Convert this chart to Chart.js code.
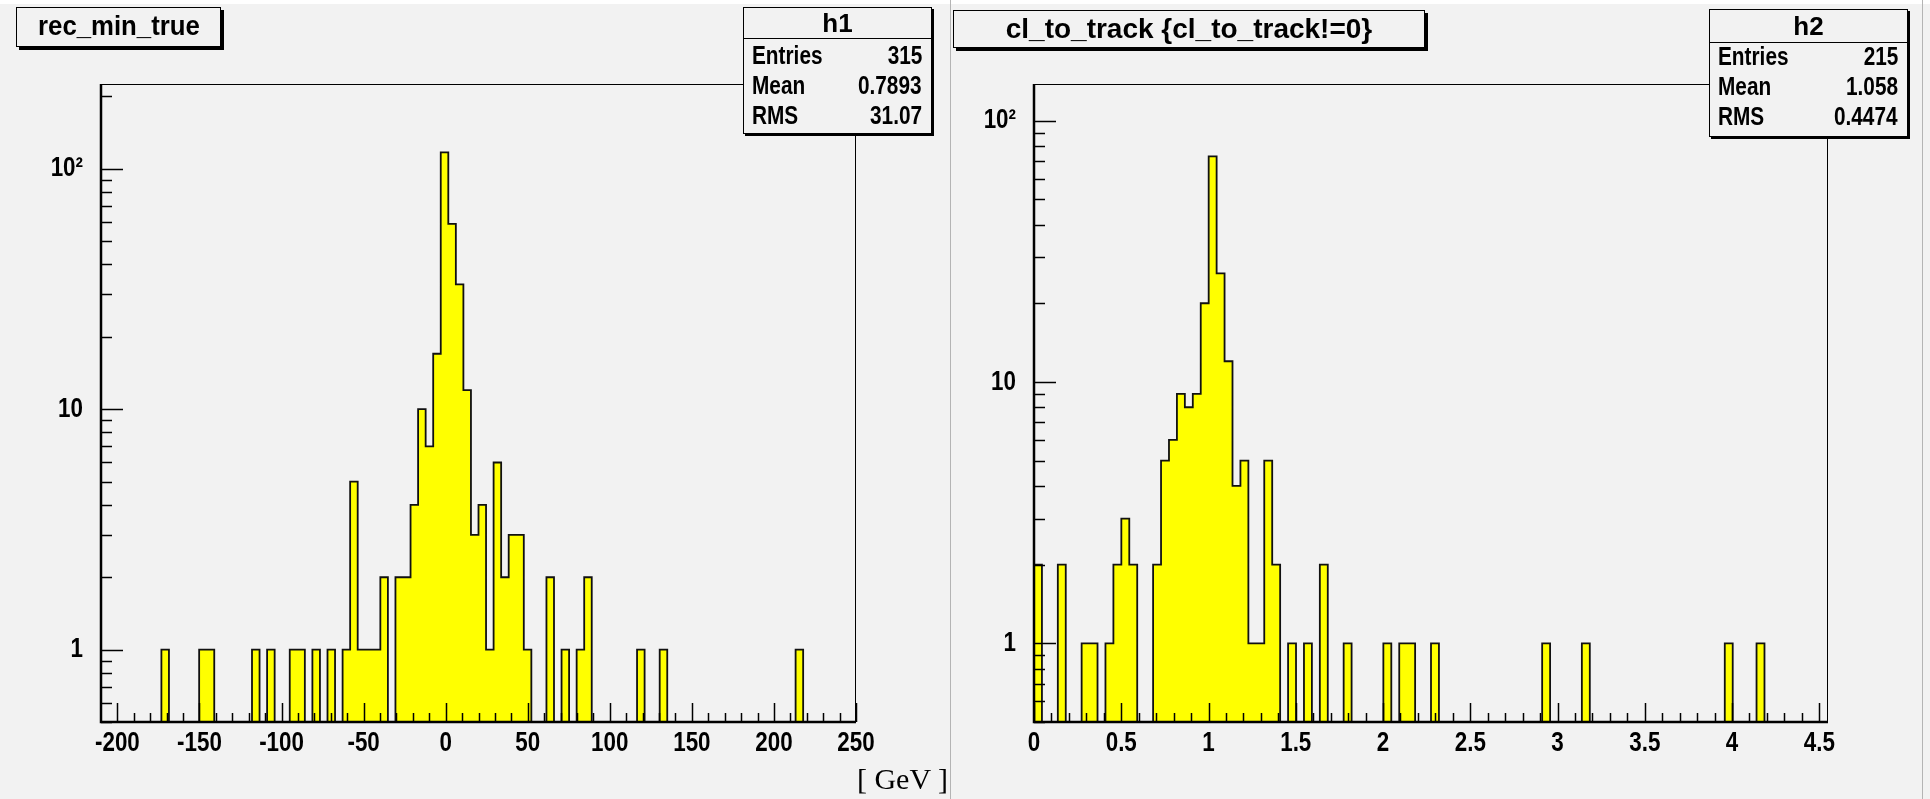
<!DOCTYPE html>
<html>
<head>
<meta charset="utf-8">
<script src="https://cdn.jsdelivr.net/npm/chart.js@4/dist/chart.umd.min.js"></script>
<style>
  html, body { margin: 0; padding: 0; }
  body {
    width: 1930px; height: 799px; position: relative; overflow: hidden;
    background: #f2f2f2;
    font-family: "Liberation Sans", Arial, sans-serif;
  }
  canvas { position: absolute; top: 0; }
  #h1c { left: 0; }
  #h2c { left: 950px; }
  .strip { position: absolute; left: 0; top: 0; width: 1930px; height: 4px; background: #fff; }
  .sep { position: absolute; top: 0; width: 1px; height: 799px; background: #b4b4b4; }
  .title, .stats {
    position: absolute; box-sizing: border-box;
    border: 1px solid #000; box-shadow: 3px 3px 0 #000;
    background: #f2f2f2; font-weight: bold; color: #000;
  }
  .title { font-size: 28px; text-align: center; line-height: 36px; white-space: nowrap; }
  .title span { display: inline-block; transform-origin: center; }
  .stats { font-size: 26px; box-shadow: 2px 2px 0 #000; }
  .stats .hd { text-align: center; border-bottom: 1px solid #000; box-sizing: border-box; }
  .stats .row { display: flex; justify-content: space-between; padding: 0 9px 0 8px; height: 30px; line-height: 30px; }
  .stats .row span { display: inline-block; transform: scaleX(0.8); }
  .stats .row span:first-child { transform-origin: left; }
  .stats .row span:last-child { transform-origin: right; }
  .unit {
    position: absolute; right: 982px; top: 762px; line-height: 34px;
    font-family: "Liberation Serif", "Times New Roman", serif; font-size: 30px; color: #000;
  }
</style>
</head>
<body>
<div class="strip"></div>
<canvas id="h1c" width="950" height="799"></canvas>
<canvas id="h2c" width="980" height="799"></canvas>
<div class="sep" style="left:950px"></div>
<div class="sep" style="left:1922px"></div>

<div class="title" style="left:16px; top:7px; width:205px; height:40px;"><span style="transform:scaleX(0.92)">rec_min_true</span></div>
<div class="title" style="left:953px; top:10px; width:472px; height:38px;"><span>cl_to_track {cl_to_track!=0}</span></div>

<div class="stats" style="left:743px; top:7px; width:189px; height:127px;">
  <div class="hd" style="height:31px; line-height:31px;">h1</div>
  <div style="padding-top:1px">
    <div class="row"><span>Entries</span><span>315</span></div>
    <div class="row"><span>Mean</span><span>0.7893</span></div>
    <div class="row"><span>RMS</span><span>31.07</span></div>
  </div>
</div>
<div class="stats" style="left:1709px; top:9px; width:199px; height:128px;">
  <div class="hd" style="height:33px; line-height:33px;">h2</div>
  <div style="margin-top:-2px">
    <div class="row"><span>Entries</span><span>215</span></div>
    <div class="row"><span>Mean</span><span>1.058</span></div>
    <div class="row"><span>RMS</span><span>0.4474</span></div>
  </div>
</div>
<div class="unit">[ GeV ]</div>

<script>
// h1: rec_min_true, 100 bins on [-210, 250]
const recRange = [-210, 250];
const recCounts = [
  0, 0, 0, 0, 0, 0, 0, 0, 1, 0,   0, 0, 0, 1, 1, 0, 0, 0, 0, 0,
  1, 0, 1, 0, 0, 1, 1, 0, 1, 0,   1, 0, 1, 5, 1, 1, 1, 2, 0, 2,
  2, 4, 10, 7, 17, 117, 59, 33, 12, 3,   4, 1, 6, 2, 3, 3, 1, 0, 0, 2,
  0, 1, 0, 1, 2, 0, 0, 0, 0, 0,   0, 1, 0, 0, 1, 0, 0, 0, 0, 0,
  0, 0, 0, 0, 0, 0, 0, 0, 0, 0,   0, 0, 1, 0, 0, 0, 0, 0, 0, 0
];
const recXTicks = [-200, -150, -100, -50, 0, 50, 100, 150, 200, 250];
const recXMinor = 10;
const recYMax = 225;

// h2: cl_to_track (non-zero entries), 100 bins on [0, 4.55]
const clRange = [0, 4.55];
const clCounts = [
  2, 0, 0, 2, 0, 0, 1, 1, 0, 1,   2, 3, 2, 0, 0, 2, 5, 6, 9, 8,
  9, 20, 73, 26, 12, 4, 5, 1, 1, 5,   2, 0, 1, 0, 1, 0, 2, 0, 0, 1,
  0, 0, 0, 0, 1, 0, 1, 1, 0, 0,   1, 0, 0, 0, 0, 0, 0, 0, 0, 0,
  0, 0, 0, 0, 1, 0, 0, 0, 0, 1,   0, 0, 0, 0, 0, 0, 0, 0, 0, 0,
  0, 0, 0, 0, 0, 0, 0, 1, 0, 0,   0, 1, 0, 0, 0, 0, 0, 0, 0, 0
];
const clXTicks = [0, 0.5, 1, 1.5, 2, 2.5, 3, 3.5, 4, 4.5];
const clXMinor = 0.1;
const clYMax = 138;

// log y axis, shared by both pads
const yMin = 0.5;
const yTickValues = [1, 10, 100];
const yTickLabels = ['1', '10', '10²'];

const FONT = '"Liberation Sans", Arial, sans-serif';
const LABEL_SQUEEZE = 0.8; // axis labels are drawn in a narrow face

// outline of a histogram: a flat segment per bin, vertical jumps between bins.
// empty bins sit on the axis floor (log scale has no zero)
function histPoints(counts, range) {
  const w = (range[1] - range[0]) / counts.length;
  const pts = [];
  counts.forEach((c, i) => {
    const y = c > 0 ? c : yMin;
    pts.push({ x: range[0] + i * w, y });
    pts.push({ x: range[0] + (i + 1) * w, y });
  });
  return pts;
}

// narrow the canvas text around its anchor so alignment is kept
const narrowText = {
  id: 'narrowText',
  beforeInit(chart) {
    const ctx = chart.ctx;
    const fill = ctx.fillText.bind(ctx);
    ctx.fillText = function (text, x, y) {
      this.save();
      this.translate(x, y);
      this.scale(LABEL_SQUEEZE, 1);
      fill(text, 0, 0);
      this.restore();
    };
  }
};

// ROOT-like frame: thin box, heavy axes, ticks pointing into the plot
const rootFrame = {
  id: 'rootFrame',
  afterDatasetsDraw(chart, args, opts) {
    const { ctx, chartArea: a, scales: { x, y } } = chart;
    ctx.save();
    ctx.strokeStyle = '#000';
    ctx.lineWidth = 1;
    ctx.strokeRect(a.left + 0.5, a.top + 0.5, a.right - a.left - 1, a.bottom - a.top);

    ctx.lineWidth = 1.5;
    ctx.beginPath();
    // x ticks
    for (let v = opts.xTicks[0]; v <= x.max + 1e-9; v += opts.xMinor) {
      const px = Math.round(x.getPixelForValue(v)) + 0.5;
      const major = opts.xTicks.some(t => Math.abs(t - v) < opts.xMinor / 10);
      ctx.moveTo(px, a.bottom);
      ctx.lineTo(px, a.bottom - (major ? 19 : 9));
    }
    // y ticks (decades major, 2..9 minor)
    for (let d = 0.1; d <= y.max; d *= 10) {
      for (let k = 1; k <= 9; k++) {
        const v = d * k;
        if (v < y.min || v > y.max) continue;
        const py = Math.round(y.getPixelForValue(v)) + 0.5;
        ctx.moveTo(a.left, py);
        ctx.lineTo(a.left + (k === 1 ? 22 : 11), py);
      }
    }
    ctx.stroke();

    ctx.lineWidth = 2.5;
    ctx.beginPath();
    ctx.moveTo(a.left, a.top);
    ctx.lineTo(a.left, a.bottom);
    ctx.lineTo(a.right, a.bottom);
    ctx.stroke();
    ctx.restore();
  }
};

function drawHist(id, counts, range, xTicks, xMinor, yMax, yWidth, padRight) {
  return new Chart(document.getElementById(id), {
    type: 'line',
    data: {
      datasets: [{
        data: histPoints(counts, range),
        borderColor: '#111',
        borderWidth: 1.8,
        backgroundColor: '#ffff00',
        fill: 'start',
        pointRadius: 0,
        tension: 0
      }]
    },
    options: {
      responsive: false,
      devicePixelRatio: 1,
      animation: false,
      events: [],
      layout: { padding: { left: 0, top: 84, right: padRight, bottom: 0 } },
      plugins: {
        legend: { display: false },
        tooltip: { enabled: false },
        rootFrame: { xTicks, xMinor }
      },
      scales: {
        x: {
          type: 'linear',
          min: range[0],
          max: range[1],
          grid: { display: false, drawTicks: false },
          border: { display: false },
          afterBuildTicks: s => { s.ticks = xTicks.map(v => ({ value: v })); },
          afterFit: s => { s.height = 77; },
          ticks: {
            autoSkip: false,
            maxRotation: 0,
            padding: 4,
            color: '#000',
            font: { family: FONT, size: 28, weight: 'bold' },
            callback: v => String(v)
          }
        },
        y: {
          type: 'logarithmic',
          min: yMin,
          max: yMax,
          grid: { display: false, drawTicks: false },
          border: { display: false },
          afterBuildTicks: s => { s.ticks = yTickValues.map(v => ({ value: v })); },
          afterFit: s => { s.width = yWidth; },
          ticks: {
            autoSkip: false,
            padding: 18,
            color: '#000',
            font: { family: FONT, size: 28, weight: 'bold' },
            callback: v => yTickLabels[yTickValues.indexOf(v)]
          }
        }
      }
    },
    plugins: [narrowText, rootFrame]
  });
}

drawHist('h1c', recCounts, recRange, recXTicks, recXMinor, recYMax, 101, 94);
drawHist('h2c', clCounts, clRange, clXTicks, clXMinor, clYMax, 84, 102);
</script>
</body>
</html>
